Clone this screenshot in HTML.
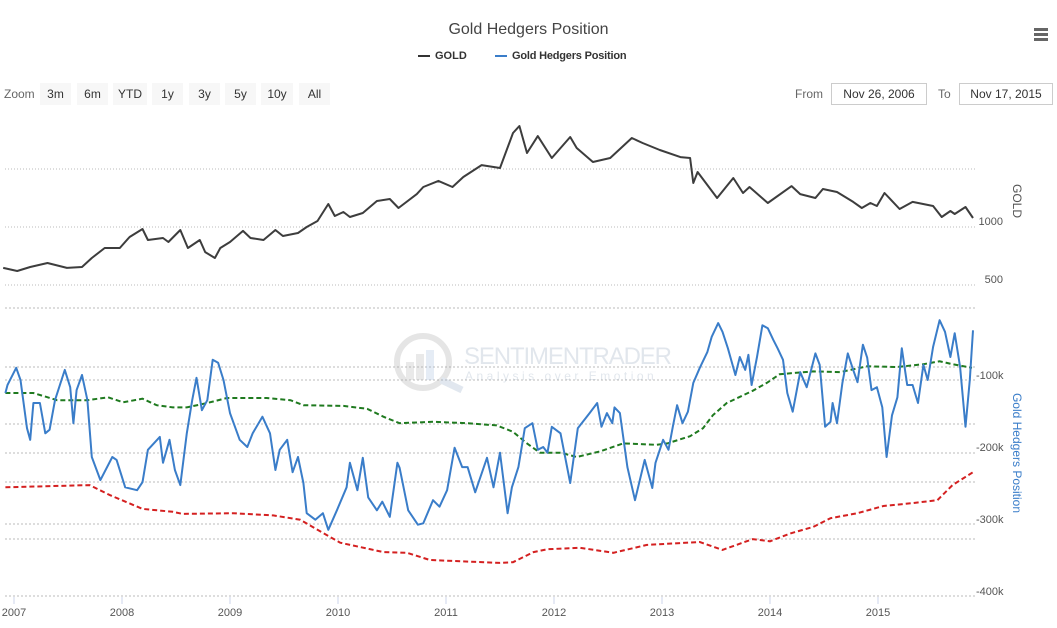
<!DOCTYPE html>
<html><head><meta charset="utf-8"><style>
body{margin:0;background:#fff;font-family:"Liberation Sans",sans-serif;}
#wrap{position:relative;width:1057px;height:628px;overflow:hidden;}
.btn{position:absolute;top:83px;height:22px;line-height:22px;background:#f7f7f7;color:#333;font-size:12px;text-align:center;}
.inp{position:absolute;top:83px;height:20px;line-height:20px;border:1px solid #ccc;font-size:12px;color:#333;text-align:center;}
</style></head><body>
<div id="wrap">
<div style="position:absolute;top:21px;left:0;width:1057px;text-align:center;font-size:16px;color:#444;">Gold Hedgers Position</div>
<div style="position:absolute;left:1034px;top:28px;width:14px;">
<div style="height:3px;background:#666;margin-bottom:2px"></div><div style="height:3px;background:#666;margin-bottom:2px"></div><div style="height:3px;background:#666"></div></div>
<div style="position:absolute;left:418px;top:50px;font-size:11px;font-weight:bold;color:#333;"><span style="display:inline-block;width:12px;height:2px;background:#333;vertical-align:middle;margin-right:5px"></span>GOLD</div>
<div style="position:absolute;left:495px;top:50px;font-size:11px;font-weight:bold;color:#333;letter-spacing:-0.2px"><span style="display:inline-block;width:12px;height:2px;background:#3a7dc9;vertical-align:middle;margin-right:5px"></span>Gold Hedgers Position</div>
<div style="position:absolute;left:4px;top:87px;font-size:12px;color:#666">Zoom</div>
<div class="btn" style="left:40px;width:31px">3m</div>
<div class="btn" style="left:77px;width:31px">6m</div>
<div class="btn" style="left:113px;width:34px">YTD</div>
<div class="btn" style="left:152px;width:31px">1y</div>
<div class="btn" style="left:189px;width:31px">3y</div>
<div class="btn" style="left:225px;width:31px">5y</div>
<div class="btn" style="left:261px;width:32px">10y</div>
<div class="btn" style="left:299px;width:31px">All</div>
<div style="position:absolute;left:795px;top:87px;font-size:12px;color:#666">From</div>
<div class="inp" style="left:831px;width:94px">Nov 26, 2006</div>
<div style="position:absolute;left:938px;top:87px;font-size:12px;color:#666">To</div>
<div class="inp" style="left:959px;width:92px">Nov 17, 2015</div>
<svg id="chart" width="1057" height="628" style="position:absolute;left:0;top:0"></svg>
</div>
<script>
const goldDates=[2006.90,2007.03,2007.15,2007.31,2007.49,2007.63,2007.72,2007.84,2007.98,2008.07,2008.19,2008.24,2008.38,2008.43,2008.54,2008.61,2008.72,2008.77,2008.86,2008.91,2009.00,2009.12,2009.19,2009.31,2009.42,2009.49,2009.63,2009.71,2009.81,2009.91,2009.97,2010.05,2010.11,2010.23,2010.36,2010.48,2010.56,2010.73,2010.79,2010.93,2011.06,2011.16,2011.33,2011.50,2011.62,2011.68,2011.75,2011.85,2011.98,2012.15,2012.21,2012.36,2012.52,2012.72,2012.82,2012.98,2013.17,2013.26,2013.29,2013.33,2013.51,2013.66,2013.75,2013.81,2013.98,2014.20,2014.28,2014.42,2014.49,2014.62,2014.77,2014.85,2014.93,2014.99,2015.06,2015.20,2015.32,2015.51,2015.59,2015.67,2015.71,2015.81,2015.88];
const goldValues=[647,621,655,690,647,655,733,819,819,914,983,888,905,871,974,819,888,784,733,819,871,966,905,888,974,922,948,1000,1052,1198,1095,1129,1086,1121,1224,1241,1164,1284,1345,1397,1345,1431,1534,1509,1810,1871,1638,1784,1595,1776,1681,1560,1595,1767,1724,1664,1603,1595,1379,1474,1250,1422,1293,1345,1207,1353,1284,1250,1328,1302,1216,1164,1207,1181,1293,1155,1216,1181,1086,1138,1112,1172,1078];
const hedgerDates=[2006.92,2006.94,2007.02,2007.06,2007.12,2007.15,2007.18,2007.24,2007.29,2007.33,2007.38,2007.44,2007.47,2007.52,2007.55,2007.58,2007.63,2007.68,2007.72,2007.80,2007.91,2007.95,2008.03,2008.14,2008.19,2008.24,2008.35,2008.38,2008.44,2008.49,2008.54,2008.60,2008.65,2008.69,2008.74,2008.79,2008.84,2008.89,2008.94,2009.00,2009.09,2009.16,2009.21,2009.30,2009.37,2009.42,2009.46,2009.53,2009.58,2009.63,2009.68,2009.71,2009.79,2009.86,2009.91,2009.99,2010.08,2010.11,2010.18,2010.23,2010.28,2010.36,2010.41,2010.48,2010.55,2010.57,2010.65,2010.74,2010.79,2010.88,2010.94,2011.01,2011.08,2011.15,2011.20,2011.27,2011.38,2011.44,2011.50,2011.57,2011.61,2011.67,2011.73,2011.80,2011.85,2011.90,2011.94,2011.98,2012.06,2012.15,2012.22,2012.33,2012.40,2012.44,2012.49,2012.54,2012.56,2012.61,2012.68,2012.75,2012.84,2012.91,2012.94,2013.01,2013.06,2013.10,2013.14,2013.19,2013.24,2013.29,2013.35,2013.42,2013.46,2013.52,2013.56,2013.61,2013.68,2013.72,2013.77,2013.80,2013.83,2013.88,2013.93,2013.98,2014.03,2014.07,2014.12,2014.16,2014.21,2014.28,2014.34,2014.42,2014.46,2014.51,2014.56,2014.58,2014.62,2014.67,2014.72,2014.77,2014.81,2014.86,2014.90,2014.94,2014.99,2015.04,2015.08,2015.13,2015.18,2015.22,2015.27,2015.32,2015.37,2015.42,2015.46,2015.51,2015.57,2015.62,2015.67,2015.71,2015.76,2015.81,2015.85,2015.88];
const hedgerValues=[-118,-107,-83,-100,-167,-183,-132,-132,-174,-169,-128,-100,-86,-110,-160,-114,-93,-128,-207,-239,-207,-211,-249,-253,-242,-197,-179,-215,-183,-225,-246,-174,-128,-97,-142,-128,-72,-76,-100,-146,-183,-193,-174,-151,-174,-225,-197,-183,-228,-207,-243,-285,-294,-285,-308,-281,-249,-215,-253,-208,-263,-281,-269,-290,-215,-222,-281,-301,-299,-267,-276,-253,-194,-221,-221,-256,-208,-249,-201,-285,-249,-221,-167,-160,-197,-193,-201,-165,-174,-243,-167,-146,-132,-165,-146,-160,-138,-146,-221,-267,-211,-250,-215,-183,-197,-165,-135,-160,-144,-104,-83,-61,-40,-21,-33,-56,-93,-68,-86,-65,-107,-68,-24,-28,-44,-56,-72,-118,-144,-89,-110,-63,-79,-165,-158,-132,-160,-104,-63,-86,-103,-51,-69,-114,-110,-138,-207,-149,-124,-56,-107,-107,-132,-79,-100,-54,-17,-33,-68,-35,-82,-165,-100,-31];
const upperDates=[2006.92,2007.18,2007.40,2007.68,2007.87,2008.01,2008.19,2008.32,2008.47,2008.60,2008.79,2008.97,2009.34,2009.56,2009.68,2010.05,2010.27,2010.42,2010.57,2010.88,2011.19,2011.47,2011.62,2011.75,2011.87,2012.06,2012.21,2012.43,2012.64,2012.95,2013.05,2013.26,2013.38,2013.47,2013.60,2013.84,2013.97,2014.09,2014.40,2014.65,2014.90,2015.18,2015.42,2015.57,2015.69,2015.87];
const upperValues=[-118,-118,-128,-128,-124,-131,-126,-135,-138,-138,-132,-125,-125,-128,-135,-136,-140,-151,-160,-158,-160,-163,-172,-188,-201,-201,-207,-199,-188,-190,-188,-178,-167,-149,-132,-115,-104,-92,-88,-89,-81,-82,-78,-74,-78,-83];
const lowerDates=[2006.92,2007.70,2007.89,2008.19,2008.47,2008.56,2009.03,2009.40,2009.65,2009.81,2010.02,2010.42,2010.64,2010.85,2011.50,2011.62,2011.81,2011.94,2012.24,2012.55,2012.86,2013.35,2013.56,2013.84,2014.00,2014.19,2014.40,2014.56,2014.81,2015.05,2015.32,2015.55,2015.69,2015.88];
const lowerValues=[-249,-246,-260,-279,-283,-286,-285,-288,-294,-308,-326,-339,-340,-350,-354,-353,-339,-335,-333,-340,-329,-325,-336,-321,-324,-313,-304,-292,-285,-275,-271,-267,-246,-228];
const yearTicks=[2007,2008,2009,2010,2011,2012,2013,2014,2015];
const goldTicks=[1000,500];
const hedgerTicks=[-100,-200,-300,-400];

const NS='http://www.w3.org/2000/svg';
const svg=document.getElementById('chart');
const X=t=>14+(t-2007)*108;
const YG=v=>227-(v-1000)*0.116;
const YH=v=>380-(v+100)*0.72;
function mk(tag,attrs){const e=document.createElementNS(NS,tag);for(const k in attrs)e.setAttribute(k,attrs[k]);svg.appendChild(e);return e;}
[169,227,285].forEach(y=>{const l=mk('line',{x1:5,x2:975,y1:y,y2:y,stroke:'#bbb','stroke-width':1,'stroke-dasharray':'1,2'});

});
[308,367,380,424,453,482,524,539,596].forEach(y=>{const l=mk('line',{x1:5,x2:975,y1:y,y2:y,stroke:'#bbb','stroke-width':1,'stroke-dasharray':'2,2'});

});
const wm=mk('g',{opacity:0.25});


wm.innerHTML='<circle cx="423" cy="362" r="26" fill="none" stroke="#999" stroke-width="6"/><line x1="441" y1="380" x2="462" y2="390" stroke="#8aa4c0" stroke-width="7"/><rect x="406" y="362" width="8" height="18" fill="#aaa"/><rect x="416" y="354" width="8" height="26" fill="#aaa"/><rect x="426" y="350" width="8" height="30" fill="#9ab8d8"/><text x="464" y="364" font-size="24" fill="#8aa0b8" font-family="Liberation Sans" textLength="208">SENTIMENTRADER</text><text x="465" y="380" font-size="12" fill="#8aa0b8" letter-spacing="3.5" font-family="Liberation Sans">Analysis over Emotion</text>';
function path(dates,vals,yf,attrs,name){let d='';dates.forEach((t,i)=>{d+=(i?'L':'M')+X(t).toFixed(1)+','+yf(vals[i]).toFixed(1);});const p=mk('path',Object.assign({d:d,fill:'none'},attrs));

return p;}
path(upperDates,upperValues,YH,{stroke:'#1f7a1f','stroke-width':2,'stroke-dasharray':'5,3'},'upper-band-line');
path(lowerDates,lowerValues,YH,{stroke:'#d42020','stroke-width':2,'stroke-dasharray':'5,3'},'lower-band-line');
path(hedgerDates,hedgerValues,YH,{stroke:'#3a7dc9','stroke-width':2,'stroke-linejoin':'round'},'hedgers-line');
path(goldDates,goldValues,YG,{stroke:'#3d3d3d','stroke-width':2,'stroke-linejoin':'round'},'gold-line');
yearTicks.forEach(y=>{const l=mk('line',{x1:X(y),x2:X(y),y1:597,y2:604,stroke:'#ccd6eb'});


const t=mk('text',{x:X(y),y:616,'text-anchor':'middle','font-size':11,fill:'#555'});t.textContent=y;

});
goldTicks.forEach(v=>{const t=mk('text',{x:1003,y:YG(v)-2,'font-size':11,fill:'#555','text-anchor':'end'});t.textContent=v;

});
hedgerTicks.forEach(v=>{const t=mk('text',{x:976,y:YH(v)-1,'font-size':11,fill:'#555'});t.textContent=v+'k';

});
const g1=mk('text',{x:1013,y:201,'font-size':12,fill:'#555','text-anchor':'middle',transform:'rotate(90 1013 201)'});g1.textContent='GOLD';


const g2=mk('text',{x:1013,y:453,'font-size':12,fill:'#3a7dc9','text-anchor':'middle',transform:'rotate(90 1013 453)'});g2.textContent='Gold Hedgers Position';


</script>
</body></html>
